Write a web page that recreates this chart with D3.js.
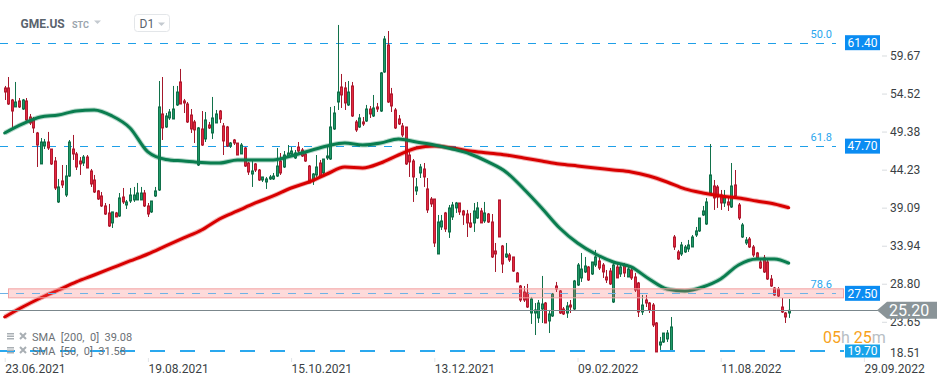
<!DOCTYPE html>
<html><head><meta charset="utf-8">
<script src="https://cdn.jsdelivr.net/npm/d3@7"></script>
<style>
html,body{margin:0;padding:0;background:#fff;}
svg{display:block;font-family:Roboto,"Noto Sans",sans-serif;}
</style></head><body>
<svg id="chart" width="949" height="384"></svg>
<script>
// ---------------- DATA ----------------
const open = [55.28,55.28,53.65,52.71,53.52,52.43,53.52,51.35,50.95,49.19,
45.00,47.43,47.97,47.02,45.40,39.86,42.70,40.80,43.37,47.02,
46.35,45.40,45.13,45.94,44.05,42.83,41.35,40.67,39.32,38.37,
37.02,38.37,37.96,40.53,39.45,39.99,40.13,40.13,40.13,41.07,
39.32,38.51,40.67,41.48,51.76,50.00,51.22,51.08,52.98,56.09,
53.52,53.11,51.62,50.68,44.86,49.73,48.38,50.27,49.19,50.54,
52.16,50.14,50.00,47.43,48.24,47.83,46.35,47.16,45.13,43.64,
45.00,44.18,42.83,42.56,42.97,42.97,43.37,45.40,44.59,46.08,
46.35,45.81,47.29,46.89,46.35,44.72,42.70,43.51,45.13,43.78,
45.81,45.67,49.73,53.38,55.41,55.28,52.98,55.55,50.68,50.00,
50.68,50.81,52.43,51.49,52.71,52.16,57.44,61.09,54.47,52.30,
51.08,50.14,50.00,46.21,45.40,41.35,43.78,44.32,41.62,40.26,
40.26,32.82,36.48,38.37,35.80,37.83,39.05,39.72,38.64,38.23,
37.02,37.02,37.69,38.64,37.29,38.23,37.15,33.23,40.13,33.90,
32.42,32.69,32.42,30.25,28.49,27.68,27.55,24.84,24.84,24.17,
25.38,26.19,23.76,24.44,28.49,27.82,25.38,24.84,25.92,25.38,
28.63,29.58,30.39,31.06,30.12,31.33,31.88,31.33,29.71,30.52,
26.33,31.06,30.12,31.33,29.71,30.66,29.71,28.90,24.98,26.60,
26.19,25.92,23.49,20.51,20.92,21.33,19.70,35.12,33.10,32.82,
33.10,33.50,33.77,35.39,35.94,38.10,36.88,41.07,42.02,41.89,
40.80,39.72,39.86,39.18,42.16,39.45,35.12,34.31,34.85,33.77,
32.96,31.74,32.28,31.74,29.44,28.22,28.09,25.65,24.84,24.84];

const high = [55.55,56.76,53.79,56.09,53.92,53.79,53.92,51.76,51.35,49.33,
48.51,48.38,49.33,47.02,45.94,42.97,44.86,44.86,48.24,48.92,
46.62,45.94,46.21,46.21,44.32,43.51,41.48,41.21,39.72,39.59,
38.51,38.51,41.07,41.75,40.13,41.75,41.89,42.43,41.89,41.48,
39.72,39.99,41.89,56.22,56.76,51.89,52.43,55.55,55.55,57.85,
53.79,53.38,52.43,50.95,50.00,52.16,52.03,50.68,54.06,52.30,
52.30,50.54,50.14,47.97,48.38,47.83,47.83,47.29,45.27,45.54,
45.13,44.32,43.24,43.24,43.51,43.78,47.16,46.48,46.75,47.56,
47.29,46.89,47.97,47.16,46.48,44.86,43.78,46.21,45.54,45.67,
47.29,52.71,52.84,63.80,57.17,56.09,56.22,56.09,50.95,51.76,
51.35,52.98,52.84,54.33,53.25,57.44,62.31,62.98,55.28,52.57,
51.62,50.54,50.00,46.62,45.67,43.10,45.00,45.13,43.10,40.53,
40.26,38.10,38.10,38.51,39.45,39.86,39.86,39.72,38.78,38.78,
38.37,39.72,39.86,39.05,39.86,38.37,38.23,34.31,40.13,34.04,
34.31,32.96,32.42,30.39,28.63,28.49,28.77,27.01,26.19,26.60,
29.85,26.33,25.25,27.55,29.04,27.95,25.65,26.33,26.60,29.31,
31.60,32.96,32.42,31.20,31.74,33.37,32.42,31.60,30.66,30.93,
31.60,31.60,31.60,31.60,31.06,30.93,30.25,29.04,27.28,27.28,
26.33,26.19,23.62,21.60,22.13,22.54,24.30,35.39,33.37,34.45,
34.04,34.72,35.39,36.48,37.69,39.32,40.40,47.70,42.83,42.16,
41.48,41.48,40.53,45.13,44.18,39.72,37.02,35.12,35.12,34.04,
33.10,32.01,32.69,32.15,29.98,28.36,28.36,26.87,24.98,26.74];

const low = [53.65,52.98,49.87,52.71,52.57,52.30,50.54,50.27,49.19,44.59,
45.00,47.02,46.89,44.86,41.48,39.72,41.75,40.53,43.24,45.54,
44.18,43.51,44.72,44.45,41.89,41.07,40.13,39.18,38.10,36.48,
36.34,37.83,37.83,39.59,38.91,39.72,39.86,40.13,40.13,39.18,
37.83,38.37,40.53,41.35,48.24,49.87,50.95,51.08,52.84,53.11,
51.89,50.54,49.19,47.83,44.72,47.43,47.97,49.73,48.38,50.54,
50.54,46.21,47.29,47.16,47.56,46.21,46.35,44.59,43.51,41.89,
43.91,42.70,42.56,41.62,42.83,42.83,43.24,43.51,44.45,45.94,
46.21,45.67,46.48,45.94,45.27,42.43,42.16,43.24,43.24,43.64,
45.54,45.54,49.60,52.30,52.57,52.30,52.84,51.35,49.33,49.87,
50.14,50.68,51.22,51.35,52.03,52.03,57.31,53.25,52.03,49.73,
50.27,48.65,44.86,43.24,39.86,40.80,43.10,41.89,38.37,39.18,
33.77,32.82,36.07,35.80,34.99,37.42,38.37,38.10,36.75,35.12,
36.34,35.80,37.56,37.02,37.02,37.02,32.28,30.39,35.12,30.25,
32.28,31.74,30.39,29.04,26.33,26.33,25.52,23.36,21.86,23.49,
23.49,23.49,22.13,24.30,27.68,24.71,24.57,24.17,24.84,25.25,
28.49,29.04,30.25,29.17,29.98,31.06,30.66,29.58,28.90,28.63,
26.19,29.58,29.71,29.71,29.71,29.31,27.68,24.30,24.57,25.65,
24.84,22.95,19.57,19.84,20.79,20.92,19.57,33.37,32.01,32.55,
32.96,33.10,33.77,35.12,35.80,37.96,36.75,41.07,38.78,39.05,
38.78,39.18,38.64,39.05,40.53,37.42,34.99,34.04,33.64,32.42,
32.01,30.79,30.25,29.31,28.36,27.14,27.01,24.84,23.49,24.17];

const close = [54.73,53.11,52.16,53.38,52.71,53.65,50.95,50.54,49.87,47.56,
47.97,47.97,47.16,45.00,41.75,41.89,42.16,43.37,47.97,46.35,
44.59,45.00,45.94,44.45,42.29,41.21,40.26,39.32,38.23,36.61,
38.51,37.83,40.40,39.86,39.86,40.80,40.80,41.07,41.07,39.32,
38.23,39.99,41.35,52.71,49.87,51.49,52.03,52.43,54.73,53.11,
53.25,50.68,49.73,49.60,49.87,47.56,50.95,49.87,51.22,51.76,
51.08,48.11,47.43,47.83,47.83,46.21,47.56,44.72,43.91,44.05,
44.18,42.83,43.24,42.97,43.24,43.37,44.72,43.78,46.21,46.48,
46.75,46.48,46.75,46.08,45.40,42.43,43.64,44.59,43.24,45.67,
46.08,50.00,51.89,54.73,54.33,53.25,54.73,51.49,49.60,51.22,
50.41,52.43,51.76,52.57,52.43,57.31,61.90,53.38,52.84,49.87,
50.41,48.92,45.00,45.27,43.24,41.89,44.59,43.24,38.78,39.59,
34.31,37.15,37.29,36.20,39.05,39.45,39.72,38.51,38.10,37.02,
36.48,38.64,39.05,37.02,38.37,37.15,32.42,32.82,35.12,31.47,
32.82,32.01,30.52,29.04,26.60,26.60,25.65,26.74,25.25,26.19,
26.06,23.49,24.71,27.41,28.09,24.84,24.71,25.79,25.65,29.17,
31.33,30.79,31.20,29.31,31.74,32.42,30.93,30.39,29.31,28.77,
31.33,29.58,31.06,30.25,30.79,29.58,27.95,24.98,25.92,26.19,
25.25,23.22,19.57,20.92,22.13,22.13,22.95,33.77,32.15,34.04,
33.77,34.04,35.12,35.94,37.69,38.64,39.86,43.51,40.40,40.53,
39.72,40.53,39.45,42.02,40.67,37.69,36.75,34.72,33.77,32.69,
32.28,30.93,30.39,29.44,28.49,27.28,27.14,24.98,24.30,25.20];

// moving averages read at these candle indices
const smaIdx = [0,5,10,15,20,25,30,35,40,45,50,55,60,65,70,75,80,85,90,95,100,105,110,115,120,
125,130,135,140,145,150,155,160,165,170,175,180,185,190,195,200,205,210,215,219];
const sma50 = [49.19,50.41,51.35,51.62,52.17,52.30,51.49,49.87,46.62,45.61,
45.40,45.20,45.13,45.54,45.54,45.54,46.08,46.76,47.43,47.84,
47.57,47.84,48.38,47.97,47.57,47.03,46.35,45.27,43.92,41.62,
39.05,36.34,34.31,32.82,31.74,31.07,29.44,28.09,27.82,28.36,
29.44,31.34,32.15,32.15,31.58];
const sma200 = [24.30,25.65,26.87,27.95,29.04,29.98,30.93,31.88,32.82,33.91,
34.99,36.07,37.56,38.64,39.72,40.67,41.75,42.56,43.64,44.59,
44.46,45.13,46.21,47.16,47.43,47.16,46.76,46.49,46.21,45.81,
45.40,45.00,44.73,44.46,44.19,43.92,43.37,42.56,41.62,41.07,
40.67,40.40,39.99,39.59,39.08];

const yTicks = [59.67,54.52,49.38,44.23,39.09,33.94,28.80,23.65,18.51];
const dateTicks = [0,40,80,120,160,200,240];
const dateLabels = ["23.06.2021","19.08.2021","15.10.2021","13.12.2021","09.02.2022","11.08.2022","29.09.2022"];
const fibPct = ["50.0","61.8","78.6"];
const fibLevel = [61.40,47.41,27.50];
const fibText = ["61.40","47.70","27.50"];
const supportLevel = 19.70;
const supportText = "19.70";
const lastPrice = 25.20;
const lastText = "25.20";
const legendTexts = ["SMA  [200,  0]  39.08","SMA  [50,  0]  31.58"];
const timerParts = [["05","#f7a21b"],["h","#b8bec4"],[" 25","#f7a21b"],["m","#b8bec4"]];

// ---------------- CHART ----------------
const svg = d3.select("#chart");
const x = d3.scaleLinear().domain([0,240]).range([4.7, 4.7 + 240*3.58]);
const y = d3.scaleLinear().domain([19.70,61.40]).range([351,42.7]);
const plotRight = 836;

const defs = svg.append("defs");
defs.append("clipPath").attr("id","plot").append("rect").attr("x",0).attr("y",0).attr("width",842).attr("height",358);

const gPlot = svg.append("g").attr("clip-path","url(#plot)");

// fib dashed lines (50.0 and 61.8) behind candles
[0,1].forEach(k=>{
  const yy = Math.round(y(fibLevel[k]))+0.5;
  gPlot.append("line").attr("x1",0).attr("x2",plotRight).attr("y1",yy).attr("y2",yy)
    .attr("stroke","#1e9fe8").attr("stroke-width",1).attr("stroke-dasharray","8,8");
});

// candles
const idx = d3.range(open.length);
const gC = gPlot.append("g");
idx.forEach(i=>{
  const up = close[i] >= open[i];
  const cx = Math.round(x(i));
  gC.append("line").attr("x1",cx+0.5).attr("x2",cx+0.5)
    .attr("y1",y(high[i])).attr("y2",y(low[i]))
    .attr("stroke", up ? "#12714a" : "#a5182c").attr("stroke-width",1);
  const top = y(Math.max(open[i],close[i]));
  const bot = y(Math.min(open[i],close[i]));
  gC.append("rect").attr("x",cx-0.5).attr("width",2)
    .attr("y",top).attr("height",Math.max(1,bot-top))
    .attr("fill", up ? "#1f9a68" : "#e3283f")
    .attr("stroke", up ? "#11704a" : "#b31a2f").attr("stroke-width",1);
});

// SMA lines
const line = d3.line().x((d,k)=>x(smaIdx[k])).y(d=>y(d)).curve(d3.curveMonotoneX);
[[sma200,"#d80000"],[sma50,"#0a7d4f"]].forEach(([s,c])=>{
  gPlot.append("path").attr("d",line(s)).attr("fill","none").attr("stroke",c)
    .attr("stroke-width",5).attr("stroke-opacity",0.3).attr("stroke-linejoin","round");
  gPlot.append("path").attr("d",line(s)).attr("fill","none").attr("stroke",c)
    .attr("stroke-width",3).attr("stroke-linejoin","round").attr("stroke-linecap","round");
});

// 78.6 zone
const zY = y(fibLevel[2]);
svg.append("rect").attr("x",8.5).attr("y",zY-4.5).attr("width",835).attr("height",9)
  .attr("fill","#f76d6d").attr("fill-opacity",0.25).attr("stroke","#f4a2a2").attr("stroke-width",1);
svg.append("line").attr("x1",0).attr("x2",plotRight).attr("y1",Math.round(zY)+0.5).attr("y2",Math.round(zY)+0.5)
  .attr("stroke","#6fb2e6").attr("stroke-width",1).attr("stroke-dasharray","8,8");

// last price line
const lpY = Math.round(y(lastPrice))+0.5;
svg.append("line").attr("x1",0).attr("x2",878).attr("y1",lpY).attr("y2",lpY)
  .attr("stroke","#7b878c").attr("stroke-width",1);

// support dashed line
const sY = y(supportLevel);
svg.append("line").attr("x1",0).attr("x2",844).attr("y1",sY).attr("y2",sY)
  .attr("stroke","#2aa8ee").attr("stroke-width",2).attr("stroke-dasharray","15,15");

// fib percent labels
fibPct.forEach((t,k)=>{
  svg.append("text").attr("x",832).attr("y",y(fibLevel[k])-5).attr("text-anchor","end")
    .attr("font-size",11).attr("fill","#2aa6ee").text(t);
});

// y axis
const yAxis = d3.axisRight(y).tickValues(yTicks).tickSize(5).tickPadding(3).tickFormat(d3.format(".2f"));
const gy = svg.append("g").attr("transform","translate(882,0)").call(yAxis);
gy.select(".domain").remove();
gy.selectAll(".tick line").attr("stroke","#d8dcdf");
gy.selectAll(".tick text").attr("font-size",12).attr("fill","#3a3f44").attr("font-family","Roboto,sans-serif");
gy.selectAll(".tick").filter(d=>y(d)>354).attr("transform","translate(0,353)").select("line").remove();

// level boxes
fibText.forEach((t,k)=>{
  const cy = y(fibLevel[k]);
  svg.append("rect").attr("x",845).attr("y",cy-7.5).attr("width",35).attr("height",15).attr("fill","#0b8cf2");
  svg.append("text").attr("x",862.5).attr("y",cy+4.3).attr("text-anchor","middle")
    .attr("font-size",12).attr("fill","#fff").text(t);
});
svg.append("rect").attr("x",845).attr("y",sY-6.5).attr("width",35).attr("height",13).attr("fill","#17a3ea");
svg.append("text").attr("x",862.5).attr("y",sY+4.3).attr("text-anchor","middle")
  .attr("font-size",12).attr("fill","#fff").text(supportText);

// last price arrow box
const lpc = y(lastPrice);
svg.append("path").attr("d",`M877,${lpc} L887,${lpc-8.5} L937,${lpc-8.5} L937,${lpc+8.5} L887,${lpc+8.5} Z`)
  .attr("fill","#8a9498");
svg.append("text").attr("x",889).attr("y",lpc+5.6).attr("font-size",16).attr("fill","#fff").text(lastText);

// countdown
const tt = svg.append("text").attr("x",823).attr("y",342.5).attr("font-size",16);
timerParts.forEach(([t,c])=>tt.append("tspan").attr("fill",c).text(t));

// x axis
const xAxis = d3.axisBottom(x).tickValues(dateTicks).tickSize(4).tickPadding(2).tickFormat((d,k)=>dateLabels[k]);
const gx = svg.append("g").attr("transform","translate(0,358)").call(xAxis);
gx.select(".domain").remove();
gx.selectAll(".tick line").attr("stroke","#e2e5e8");
gx.selectAll(".tick text").attr("text-anchor","start").attr("font-size",12).attr("fill","#3a3f44").attr("font-family","Roboto,sans-serif");

// legend
legendTexts.forEach((t,k)=>{
  const by = 337 + k*14;
  const g = svg.append("g");
  [0,2.5,5].forEach(o=>g.append("rect").attr("x",7).attr("y",by-4+o).attr("width",7).attr("height",1.5).attr("fill","#a9afb4"));
  g.append("path").attr("d",`M20,${by-4} L26,${by+2} M26,${by-4} L20,${by+2}`).attr("stroke","#a9afb4").attr("stroke-width",2);
  g.append("text").attr("x",32).attr("y",by+4).attr("font-size",11).attr("fill","#6b7075")
    .attr("xml:space","preserve").style("white-space","pre").text(t);
});

// header
svg.append("text").attr("x",20.5).attr("y",28).attr("font-size",12).attr("font-weight","bold").attr("fill","#5a646d").text("GME.US");
svg.append("text").attr("x",72).attr("y",27.5).attr("font-size",9).attr("font-weight","bold").attr("fill","#9ba5ae").text("STC");
svg.append("path").attr("d","M94,20.5 L101,20.5 L97.5,24 Z").attr("fill","#c4cad0");
svg.append("rect").attr("x",134.5).attr("y",14.5).attr("width",35).attr("height",17).attr("rx",3)
  .attr("fill","#fff").attr("stroke","#e3e6e9");
svg.append("text").attr("x",139.5).attr("y",27.5).attr("font-size",12).attr("fill","#5a646d").text("D1");
svg.append("path").attr("d","M158,22.5 L165,22.5 L161.5,26 Z").attr("fill","#c4cad0");
</script>
</body></html>
